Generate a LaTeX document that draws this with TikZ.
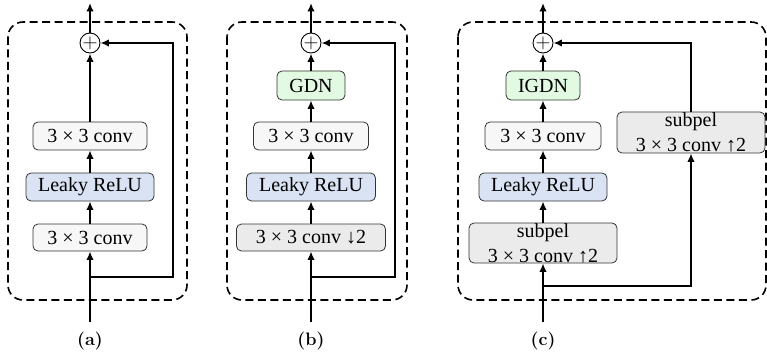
\documentclass[tikz,border=0pt]{standalone}
\usepackage{fontspec}
\newfontfamily\blkfont{Liberation Serif}
\usetikzlibrary{arrows.meta}
\definecolor{convgray}{HTML}{F7F7F7}
\definecolor{relublue}{HTML}{DAE3F3}
\definecolor{gdngreen}{HTML}{E2F9E2}
\definecolor{subgray}{HTML}{EBEBEB}
\tikzset{
  blk/.style={draw=black!80, line width=0.8pt, rounded corners=5pt, inner sep=0pt,
    minimum height=28pt, align=center, font=\blkfont\fontsize{20}{25}\selectfont},
  conv/.style={blk, fill=convgray},
  relu/.style={blk, fill=relublue},
  gdn/.style={blk, fill=gdngreen, minimum height=29pt},
  sub/.style={blk, fill=subgray},
  addop/.style={draw, circle, line width=0.9pt, minimum size=20pt, inner sep=0pt,
    font=\fontsize{20}{20}\selectfont},
  arr/.style={line width=1.8pt, -{Latex[length=8.5pt,width=7.5pt]}},
  panel/.style={line width=1.6pt, dash pattern=on 8pt off 4.5pt, rounded corners=15pt},
  captxt/.style={font=\fontsize{18}{20}\selectfont\bfseries}
}
\begin{document}
\begin{tikzpicture}[x=1pt,y=-1pt]
    \useasboundingbox (0,0) rectangle (767,358);

    % Panel (a)
    \draw[panel] (8,22) rectangle (187,300);
    \node[addop] (adda) at (90,43) {$+$};
    \node[conv, minimum width=114pt] (conv2a) at (90,136) {3 × 3 conv};
    \node[relu, minimum width=128pt] (relua) at (90,187) {Leaky ReLU};
    \node[conv, minimum width=114pt, minimum height=27pt] (conv1a) at (90,237.5) {3 × 3 conv};
    \coordinate (ina) at (90,322);
    \coordinate (splita) at (90,277);
    \coordinate (skipa) at (173,277);
    \coordinate (outa) at (90,3);
    \draw[arr] (ina) -- (conv1a);
    \draw[arr] (conv1a) -- (relua);
    \draw[arr] (relua) -- (conv2a);
    \draw[arr] (conv2a) -- (adda);
    \draw[arr] (adda) -- (outa);
    \draw[arr] (splita) -- (skipa) |- (adda.east);
    \node[captxt] (capa) at (90,341) {(a)};

    % Panel (b)
    \draw[panel] (227,22) rectangle (407,300);
    \node[addop] (addb) at (311,43) {$+$};
    \node[gdn, minimum width=68pt] (gdnb) at (311,85.5) {GDN};
    \node[conv, minimum width=115pt] (conv2b) at (311,136) {3 × 3 conv};
    \node[relu, minimum width=129pt] (relub) at (311,187) {Leaky ReLU};
    \node[sub, minimum width=149pt, minimum height=27pt] (conv1b) at (311,237.5) {3 × 3 conv ↓2};
    \coordinate (inb) at (311,322);
    \coordinate (splitb) at (311,277);
    \coordinate (skipb) at (395,277);
    \coordinate (outb) at (311,3);
    \draw[arr] (inb) -- (conv1b);
    \draw[arr] (conv1b) -- (relub);
    \draw[arr] (relub) -- (conv2b);
    \draw[arr] (conv2b) -- (gdnb);
    \draw[arr] (gdnb) -- (addb);
    \draw[arr] (addb) -- (outb);
    \draw[arr] (splitb) -- (skipb) |- (addb.east);
    \node[captxt] (capb) at (311,341) {(b)};

    % Panel (c)
    \draw[panel] (458,22) rectangle (766,300);
    \node[addop] (addc) at (543,43) {$+$};
    \node[gdn, minimum width=74pt] (gdnc) at (543,85.5) {IGDN};
    \node[conv, minimum width=116pt] (conv2c) at (543,136) {3 × 3 conv};
    \node[relu, minimum width=128pt] (reluc) at (543,187) {Leaky ReLU};
    \node[sub, minimum width=148pt, minimum height=40pt] (up1c) at (543,243) {subpel\\3 × 3 conv ↑2};
    \node[sub, minimum width=148pt, minimum height=41pt] (up2c) at (691,132.5) {subpel\\3 × 3 conv ↑2};
    \coordinate (inc) at (543,322);
    \coordinate (splitc) at (543,286);
    \coordinate (skipc) at (691,286);
    \coordinate (outc) at (543,3);
    \draw[arr] (inc) -- (up1c);
    \draw[arr] (up1c) -- (reluc);
    \draw[arr] (reluc) -- (conv2c);
    \draw[arr] (conv2c) -- (gdnc);
    \draw[arr] (gdnc) -- (addc);
    \draw[arr] (addc) -- (outc);
    \draw[arr] (splitc) -- (skipc) -- (up2c);
    \draw[arr] (up2c) |- (addc.east);
    \node[captxt] (capc) at (543,341) {(c)};
\end{tikzpicture}
\end{document}
